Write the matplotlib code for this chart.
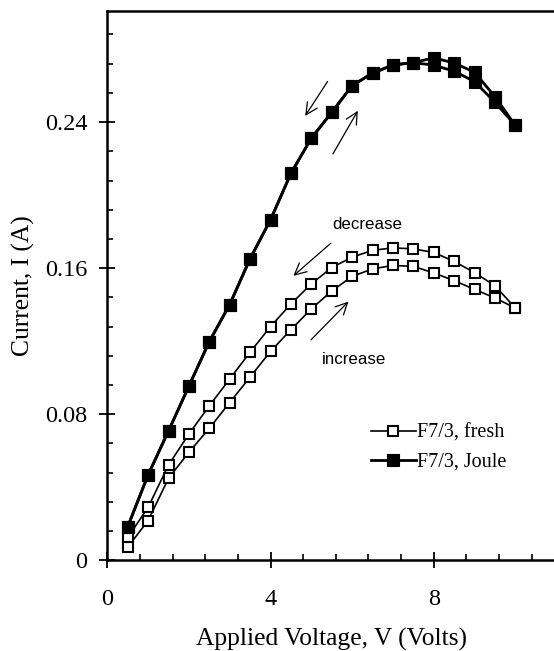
import matplotlib.pyplot as plt
from matplotlib.ticker import MultipleLocator

plt.rcParams['font.family'] = 'Liberation Serif'

# applied voltage (V)
volts = [0.5, 1.0, 1.5, 2.0, 2.5, 3.0, 3.5, 4.0, 4.5, 5.0,
         5.5, 6.0, 6.5, 7.0, 7.5, 8.0, 8.5, 9.0, 9.5, 10.0]

# fresh sample, current (A) on increasing / decreasing sweep
fresh_up = [0.0072, 0.0218, 0.0449, 0.0592, 0.0723, 0.0864, 0.1004, 0.1144, 0.1263, 0.1377,
            0.1475, 0.1555, 0.1596, 0.1615, 0.1610, 0.1574, 0.1532, 0.1484, 0.1437, 0.1382]
fresh_down = [0.0125, 0.0290, 0.0522, 0.0692, 0.0846, 0.0993, 0.1140, 0.1280, 0.1404, 0.1514,
              0.1603, 0.1660, 0.1698, 0.1711, 0.1706, 0.1686, 0.1637, 0.1576, 0.1504, 0.1382]

# Joule heated sample
joule_up = [0.0184, 0.0468, 0.0709, 0.0954, 0.1198, 0.1401, 0.1652, 0.1865, 0.2119, 0.2312,
            0.2453, 0.2600, 0.2668, 0.2713, 0.2726, 0.2712, 0.2679, 0.2622, 0.2509, 0.2382]
joule_down = [0.0184, 0.0468, 0.0709, 0.0954, 0.1198, 0.1401, 0.1652, 0.1865, 0.2119, 0.2312,
              0.2453, 0.2600, 0.2668, 0.2713, 0.2726, 0.2752, 0.2724, 0.2673, 0.2540, 0.2382]

yticks = [0, 0.08, 0.16, 0.24]
ytick_labels = ['0', '0.08', '0.16', '0.24']
xticks = [0, 4, 8]

fig = plt.figure(figsize=(5.54, 6.51), dpi=100)
ax = fig.add_axes([0.1937, 0.1393, 0.8101, 0.8442])

open_style = dict(color='black', lw=1.2, marker='s', ms=6.5, mfc='white', mec='black', mew=1.5)
filled_style = dict(color='black', lw=2.0, marker='s', ms=8.2, mfc='black', mec='black', mew=0.8)

ax.plot(volts, fresh_up, label='F7/3, fresh', **open_style)
ax.plot(volts, fresh_down, **open_style)
ax.plot(volts, joule_up, label='F7/3, Joule', **filled_style)
ax.plot(volts, joule_down, **filled_style)

ax.set_xlim(0, 11)
ax.set_ylim(0, 0.301)
ax.set_xticks(xticks)
ax.set_yticks(yticks, ytick_labels)
ax.xaxis.set_minor_locator(MultipleLocator(0.8))
ax.yaxis.set_minor_locator(MultipleLocator(0.016))

ax.tick_params(which='major', direction='inout', length=11, width=1.3, labelsize=17.5)
ax.tick_params(which='minor', direction='in', length=4.5, width=1.2)
ax.tick_params(axis='x', pad=15)
ax.tick_params(axis='y', pad=9)
for s in ['left', 'bottom', 'top']:
    ax.spines[s].set_linewidth(1.8)
ax.spines['right'].set_visible(False)

ax.set_xlabel('Applied Voltage, V (Volts)', fontsize=18.4, labelpad=13)
ax.set_ylabel('Current, I (A)', fontsize=18.4, labelpad=7)

# sweep direction arrows
arrow = dict(arrowstyle='->', lw=0.9, color='black', mutation_scale=21, shrinkA=0, shrinkB=0)
ax.annotate('', xy=(4.85, 0.2434), xytext=(5.40, 0.2623), arrowprops=arrow)
ax.annotate('', xy=(6.14, 0.2462), xytext=(5.53, 0.2226), arrowprops=arrow)
ax.annotate('', xy=(4.56, 0.1558), xytext=(5.48, 0.1737), arrowprops=arrow)
ax.annotate('', xy=(5.91, 0.1417), xytext=(4.99, 0.1207), arrowprops=arrow)
ax.text(6.36, 0.1837, 'decrease', family='Liberation Sans', fontsize=12.2, ha='center', va='center')
ax.text(6.06, 0.1101, 'increase', family='Liberation Sans', fontsize=12.2, ha='center', va='center')

ax.legend(loc='center left', bbox_to_anchor=(0.669, 0.3123), bbox_transform=fig.transFigure,
          frameon=False, borderpad=0, borderaxespad=0, handlelength=2.24, handletextpad=0.05,
          labelspacing=0.5, fontsize=14.5, numpoints=1)

fig.savefig('out.png', dpi=100)
